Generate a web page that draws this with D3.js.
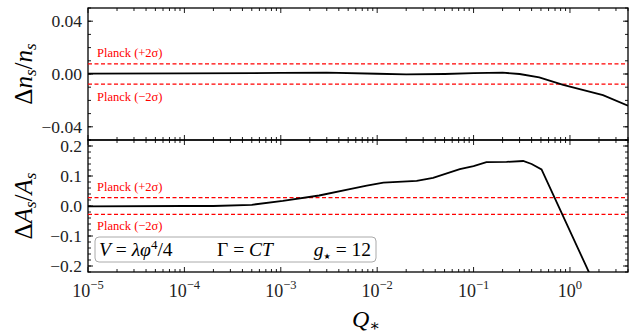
<!DOCTYPE html>
<html>
<head>
<meta charset="utf-8">
<script src="https://cdnjs.cloudflare.com/ajax/libs/d3/7.8.5/d3.min.js"></script>
<style>
  html, body { margin: 0; background: #fff; }
  svg { display: block; }
</style>
</head>
<body>
<svg id="chart" width="637" height="336" font-family="'Liberation Serif', 'DejaVu Serif', serif"></svg>
<script>
// data
var qTop   = [1e-5, 1e-4, 1e-3, 3e-3, 1e-2, 2e-2, 5e-2, 0.1, 0.2, 0.3, 0.48, 0.85, 2.2, 4.0];
var dnsTop = [0.0003, 0.0004, 0.0008, 0.001, 0.0002, -0.0003, 0.0, 0.0007, 0.001, 0.0, -0.0025, -0.0083, -0.016, -0.024];

var qBot   = [1e-5, 1e-4, 2e-4, 5e-4, 1.05e-3, 2.5e-3, 5.2e-3, 7.8e-3, 0.0116, 0.0257, 0.038, 0.072, 0.1, 0.136, 0.22, 0.327, 0.4, 0.507, 1.65];
var dAsBot = [-0.001, 0.0, 0.0, 0.004, 0.017, 0.035, 0.056, 0.068, 0.078, 0.084, 0.094, 0.123, 0.133, 0.146, 0.147, 0.15, 0.14, 0.122, -0.235];

var planckNs = 0.0077;   // +-2 sigma band, top panel
var planckAs = 0.028;    // +-2 sigma band, bottom panel

var xTickExp = [-5, -4, -3, -2, -1, 0];
var topTicks = [-0.04, 0.00, 0.04];
var botTicks = [-0.2, -0.1, 0.0, 0.1, 0.2];

var svg = d3.select("#chart");
var left = 88, right = 628;

var x = d3.scaleLog().domain([1e-5, 4]).range([left, right]);
var yTop = d3.scaleLinear().domain([-0.05, 0.05]).range([140, 8]);
var yBot = d3.scaleLinear().domain([-0.22, 0.22]).range([272, 140]);

// minor x ticks
var xMinor = [];
for (var e = -5; e <= 0; e++) {
    for (var m = 2; m <= 9; m++) {
        var v = m * Math.pow(10, e);
        if (v <= 4) xMinor.push(v);
    }
}

function panel(y, yMajor, yMinorStep, fmt, id) {
    var g = svg.append("g");
    var y0 = y.range()[1], y1 = y.range()[0];
    g.append("clipPath").attr("id", id)
        .append("rect").attr("x", left).attr("y", y0).attr("width", right - left).attr("height", y1 - y0);

    // ticks on all four sides, pointing in
    var d = y.domain();
    var yMinor = [];
    for (var v = Math.ceil(d[0] / yMinorStep - 1e-9) * yMinorStep; v <= d[1] + 1e-9; v += yMinorStep) yMinor.push(v);
    var tk = g.append("g").attr("stroke", "#000").attr("stroke-width", 0.9);
    yMinor.forEach(function(v) {
        tk.append("line").attr("x1", left).attr("x2", left + 3).attr("y1", y(v)).attr("y2", y(v));
        tk.append("line").attr("x1", right).attr("x2", right - 3).attr("y1", y(v)).attr("y2", y(v));
    });
    yMajor.forEach(function(v) {
        tk.append("line").attr("x1", left).attr("x2", left + 5).attr("y1", y(v)).attr("y2", y(v));
        tk.append("line").attr("x1", right).attr("x2", right - 5).attr("y1", y(v)).attr("y2", y(v));
    });
    xMinor.forEach(function(v) {
        tk.append("line").attr("x1", x(v)).attr("x2", x(v)).attr("y1", y0).attr("y2", y0 + 3);
        tk.append("line").attr("x1", x(v)).attr("x2", x(v)).attr("y1", y1).attr("y2", y1 - 3);
    });
    xTickExp.forEach(function(ex) {
        var xv = x(Math.pow(10, ex));
        tk.append("line").attr("x1", xv).attr("x2", xv).attr("y1", y0).attr("y2", y0 + 5);
        tk.append("line").attr("x1", xv).attr("x2", xv).attr("y1", y1).attr("y2", y1 - 5);
    });

    g.selectAll(".ylab").data(yMajor).enter().append("text")
        .attr("x", left - 6).attr("y", function(v) { return y(v) + 6; })
        .attr("text-anchor", "end").attr("font-size", 17.5).attr("fill", "#222")
        .text(function(v) { return fmt(v).replace("-", "\u2212"); });

    g.append("rect").attr("x", left).attr("y", y0).attr("width", right - left).attr("height", y1 - y0)
        .attr("fill", "none").attr("stroke", "#000").attr("stroke-width", 1.3);
    return g;
}

var gTop = panel(yTop, topTicks, 0.01, d3.format(".2f"), "clipTop");
var gBot = panel(yBot, botTicks, 0.02, d3.format(".1f"), "clipBot");

function bands(g, y, val, labY) {
    [val, -val].forEach(function(v) {
        g.append("line").attr("x1", left).attr("x2", right).attr("y1", y(v)).attr("y2", y(v))
            .attr("stroke", "#ff0000").attr("stroke-width", 1.1).attr("stroke-dasharray", "4,2.5");
    });
    g.append("text").attr("x", 97).attr("y", y(val) - 7).attr("font-size", 12.5).attr("fill", "#ff0000")
        .text("Planck (+2\u03c3)");
    g.append("text").attr("x", 97).attr("y", y(-val) + labY).attr("font-size", 12.5).attr("fill", "#ff0000")
        .text("Planck (\u22122\u03c3)");
}
bands(gTop, yTop, planckNs, 17);
bands(gBot, yBot, planckAs, 16);

var lineTop = d3.line().x(function(d) { return x(d[0]); }).y(function(d) { return yTop(d[1]); });
var lineBot = d3.line().x(function(d) { return x(d[0]); }).y(function(d) { return yBot(d[1]); });

gTop.append("path").datum(d3.zip(qTop, dnsTop)).attr("d", lineTop)
    .attr("clip-path", "url(#clipTop)")
    .attr("fill", "none").attr("stroke", "#000").attr("stroke-width", 1.8);
gBot.append("path").datum(d3.zip(qBot, dAsBot)).attr("d", lineBot)
    .attr("clip-path", "url(#clipBot)")
    .attr("fill", "none").attr("stroke", "#000").attr("stroke-width", 1.8);

// x tick labels 10^n
xTickExp.forEach(function(ex) {
    var t = svg.append("text").attr("x", x(Math.pow(10, ex))).attr("y", 297)
        .attr("text-anchor", "middle").attr("font-size", 18).attr("fill", "#222");
    t.append("tspan").text("10");
    t.append("tspan").attr("dy", -8).attr("font-size", 12.5).text(ex === 0 ? "0" : "\u2212" + (-ex));
});

svg.append("text").attr("x", 352).attr("y", 327).attr("font-size", 24)
    .call(function(t) {
        t.append("tspan").attr("font-style", "italic").text("Q");
        t.append("tspan").attr("dy", 4).attr("font-size", 16).text("\u2217");
    });

// y axis labels
function yLabel(cy, letter) {
    var t = svg.append("text").attr("transform", "translate(32," + cy + ") rotate(-90)")
        .attr("text-anchor", "middle").attr("font-size", 25);
    t.append("tspan").text("\u0394");
    t.append("tspan").attr("font-style", "italic").text(letter);
    t.append("tspan").attr("font-style", "italic").attr("font-size", 17).attr("dy", 4).text("s");
    t.append("tspan").attr("dy", -4).text("/");
    t.append("tspan").attr("font-style", "italic").text(letter);
    t.append("tspan").attr("font-style", "italic").attr("font-size", 17).attr("dy", 4).text("s");
}
yLabel(yTop(0), "n");
yLabel(yBot(0), "A");

// model box
svg.append("rect").attr("x", 95).attr("y", 237).attr("width", 281).attr("height", 25).attr("rx", 4)
    .attr("fill", "#fff").attr("fill-opacity", 0.8).attr("stroke", "#aaa").attr("stroke-width", 1);
var mt = svg.append("text").attr("y", 256).attr("font-size", 19.5);
mt.append("tspan").attr("x", 99).attr("font-style", "italic").text("V");
mt.append("tspan").text(" = ");
mt.append("tspan").attr("font-style", "italic").text("\u03bb\u03c6");
mt.append("tspan").attr("dy", -7).attr("font-size", 13).text("4");
mt.append("tspan").attr("dy", 7).text("/4");
var mt2 = svg.append("text").attr("y", 256).attr("font-size", 19.5);
mt2.append("tspan").attr("x", 217).text("\u0393 = ");
mt2.append("tspan").attr("font-style", "italic").text("CT");
var mt3 = svg.append("text").attr("y", 256).attr("font-size", 19.5).attr("text-anchor", "end");
mt3.append("tspan").attr("x", 371).attr("font-style", "italic").text("g");
mt3.append("tspan").attr("dy", 3).attr("font-size", 8).attr("font-family", "'DejaVu Sans', sans-serif").text("\u2605");
mt3.append("tspan").attr("dy", -3).text(" = 12");
</script>
</body>
</html>
